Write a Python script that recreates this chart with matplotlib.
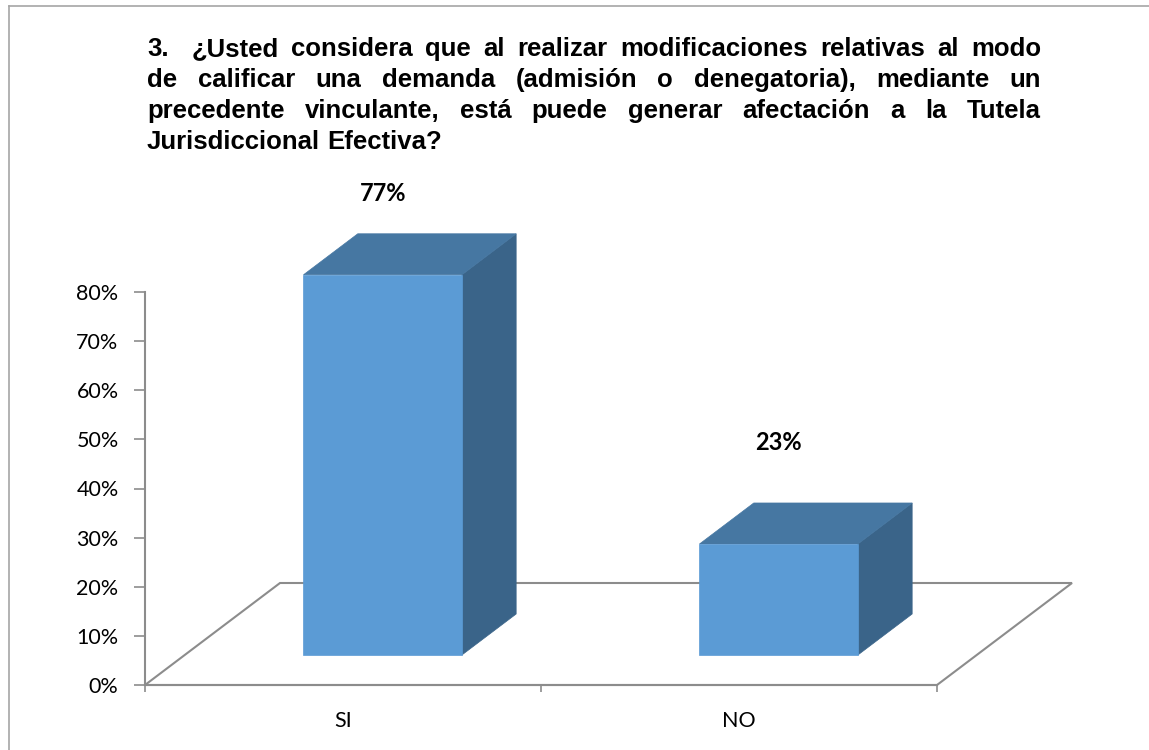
import matplotlib
matplotlib.use("Agg")
import matplotlib.pyplot as plt
from matplotlib.patches import Polygon
from matplotlib.lines import Line2D

# datos
categorias = ["SI", "NO"]
valores = [0.774, 0.226]
etiquetas = ["77%", "23%"]
titulo = [
    ["3.", "¿Usted", "considera", "que", "al", "realizar", "modificaciones", "relativas", "al", "modo"],
    ["de", "calificar", "una", "demanda", "(admisión", "o", "denegatoria),", "mediante", "un"],
    ["precedente", "vinculante,", "está", "puede", "generar", "afectación", "a", "la", "Tutela"],
    ["Jurisdiccional", "Efectiva?"],
]

W, H = 1149, 750
GRIS = "#8c8c8c"
C_FRENTE = "#5b9bd5"
C_TOPE = "#4677a2"
C_LADO = "#3a6489"
FT = dict(fontsize=18.5, fontweight="bold", family="Liberation Sans")

fig = plt.figure(figsize=(W / 100, H / 100), dpi=100)

# marco del grafico
fig.add_artist(Line2D([9 / W, 1], [1 - 6 / H, 1 - 6 / H], color="#a6a6a6", lw=1.2))
fig.add_artist(Line2D([9 / W, 9 / W], [0, 1 - 6 / H], color="#a6a6a6", lw=1.2))

# ejes: 0% en y=685px, 80% en y=292px, x de 145 a 937px
ax = fig.add_axes([145 / W, (H - 685) / H, 792 / W, 393 / H])
ax.set_xlim(0, 2)
ax.set_ylim(0, 0.8)

# profundidad del piso (en unidades de datos)
prof_x = 135 / 396
prof_y = 102 / (393 / 0.8)
d0, d1 = 0.294, 0.696
ancho = 0.40

def p(x, y, d):
    return (x + d * prof_x, y + d * prof_y)

piso = Polygon([p(0, 0, 0), p(2, 0, 0), p(2, 0, 1), p(0, 0, 1)], closed=True,
               facecolor="none", edgecolor=GRIS, lw=1.5, clip_on=False, zorder=1)
ax.add_patch(piso)

centros = [0.5, 1.5]
desfase_etiqueta = [0.165, 0.206]
for c, v, et, off in zip(centros, valores, etiquetas, desfase_etiqueta):
    x0, x1 = c - ancho / 2, c + ancho / 2
    frente = [p(x0, 0, d0), p(x1, 0, d0), p(x1, v, d0), p(x0, v, d0)]
    tope = [p(x0, v, d0), p(x1, v, d0), p(x1, v, d1), p(x0, v, d1)]
    lado = [p(x1, 0, d0), p(x1, 0, d1), p(x1, v, d1), p(x1, v, d0)]
    for pts, col in [(lado, C_LADO), (tope, C_TOPE), (frente, C_FRENTE)]:
        ax.add_patch(Polygon(pts, closed=True, facecolor=col, edgecolor=col,
                             lw=0.5, clip_on=False, zorder=3))
    xl, yl = p(c, v, d0)
    ax.text(xl, yl + off, et, ha="center", va="center", fontsize=17,
            fontweight="bold", family="Lato", color="black")

for s in ["top", "right"]:
    ax.spines[s].set_visible(False)
for s in ["left", "bottom"]:
    ax.spines[s].set_color(GRIS)
    ax.spines[s].set_linewidth(1.5)
    ax.spines[s].set_zorder(2)

ax.set_yticks([i / 10 for i in range(9)])
ax.set_yticklabels([f"{i * 10}%" for i in range(9)], family="Lato", fontsize=15.5)
ax.tick_params(axis="y", direction="out", length=8, width=1.2, color=GRIS, pad=11)

ax.set_xticks(centros)
ax.set_xticklabels(categorias, family="Lato", fontsize=15.5)
ax.set_xticks([0, 1, 2], minor=True)
ax.tick_params(axis="x", which="major", length=0, pad=19)
ax.tick_params(axis="x", which="minor", direction="out", length=5, width=1.2, color=GRIS)
ax.set_facecolor("none")

# titulo justificado
renderer = fig.canvas.get_renderer()
izq, der = 147, 1041
bases = [56, 87, 118, 149]
esp = fig.text(0, 0, "a a", **FT)
solo = fig.text(0, 0, "aa", **FT)
espacio = esp.get_window_extent(renderer).width - solo.get_window_extent(renderer).width
esp.remove()
solo.remove()
for n, (palabras, yb) in enumerate(zip(titulo, bases)):
    textos = [fig.text(0, 0, w, **FT) for w in palabras]
    anchos = [t.get_window_extent(renderer).width for t in textos]
    extra = [0.0] * len(palabras)
    if n == 0:
        extra[0] = espacio * 1.5  # doble espacio tras el numero
    if n < len(titulo) - 1:
        hueco = (der - izq - sum(anchos) - sum(extra)) / (len(palabras) - 1)
    else:
        hueco = espacio
    x = izq
    for t, a, e in zip(textos, anchos, extra):
        t.set_position((x / W, 1 - yb / H))
        t.set_va("baseline")
        x += a + hueco + e

fig.savefig("out.png", dpi=100)
